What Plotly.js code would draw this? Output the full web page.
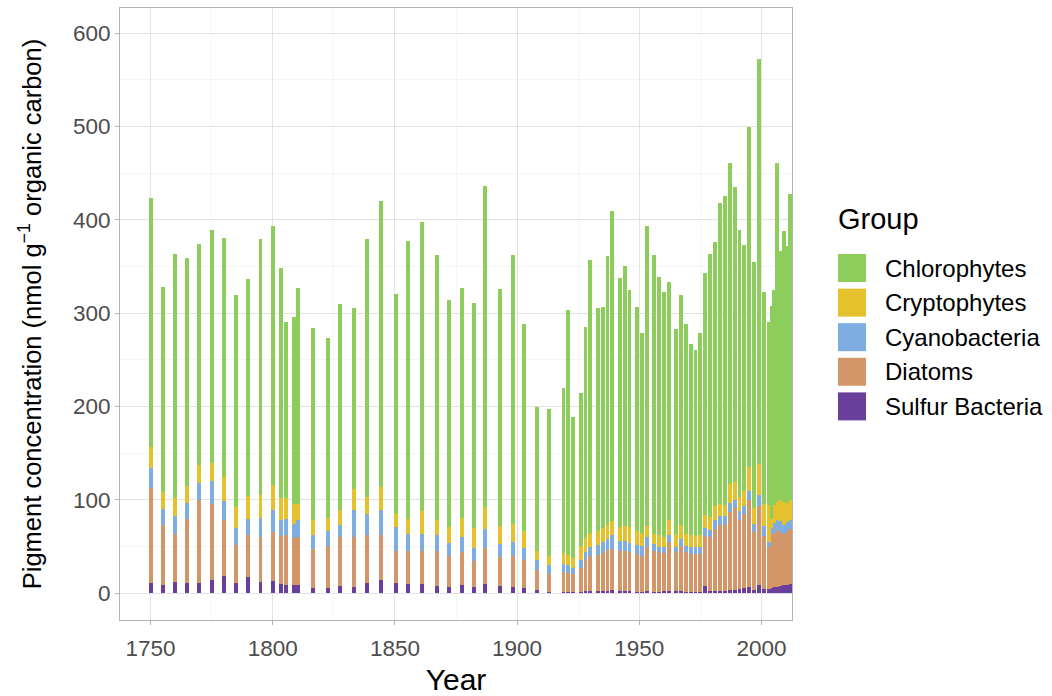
<!DOCTYPE html>
<html>
<head>
<meta charset="utf-8">
<script src="https://cdn.plot.ly/plotly-3.0.1.min.js"></script>
<style>
  html, body { margin: 0; padding: 0; background: #ffffff; }
  #chart { width: 1052px; height: 696px; }
</style>
</head>
<body>
<div id="chart"></div>
<script>
// Sediment core sample dates (year AD)
const years = [
  1750, 1755, 1760, 1765, 1770, 1775, 1780, 1785, 1790, 1795, 1800, 1803.4, 1805.5, 1808.6, 1810.5,
  1816.4, 1822.5, 1827.5, 1833.3, 1838.4, 1844.2, 1850.3, 1855.3, 1861.2, 1867.3, 1872.3, 1877.3,
  1882.3, 1887, 1893.1, 1898.2, 1903, 1908.1, 1913.1,
  1919, 1921, 1923, 1926, 1928, 1930, 1933, 1935, 1937, 1939,
  1942, 1944, 1946, 1949, 1951, 1953, 1956, 1958, 1960, 1962,
  1965, 1967, 1969, 1971, 1973, 1975, 1977, 1979, 1981, 1983,
  1985, 1987, 1989, 1991, 1993, 1995, 1997, 1999, 2001, 2003,
  2004.1, 2005.3, 2006.5, 2007.7, 2009.3, 2010.5, 2011.6
];

// Pigment concentration per group (nmol g-1 organic carbon)
const sulfurBacteria = [
  11.5, 9, 12.6, 10.8, 11.5, 14.4, 18.7, 11.5, 17.6, 12.6, 13, 10.4, 8.6, 9, 8.6,
  6.1, 6.1, 7.9, 6.8, 11.5, 14.4, 11.5, 10.4, 9.7, 7.9, 7.2, 8.5,
  7.2, 10.4, 7.9, 6.8, 6.1, 3.6, 1.8,
  1.8, 1.8, 1.5, 1.8, 2, 2, 2, 2, 2.5, 3.5,
  2, 2, 2, 1.5, 1.5, 3, 1.5, 1.5, 2, 2,
  2, 2, 1.5, 1.5, 1.5, 1.5, 8, 2, 2, 2.5,
  3, 3.5, 4, 5, 5.5, 7, 4, 9, 5, 5,
  6, 7, 7, 8, 9, 9, 10
];

const diatoms = [
  101.5, 63.7, 51.1, 69.2, 88.9, 81.6, 60.1, 40.5, 45, 48.2, 52.5, 51.5, 54, 50.4, 51.4,
  41.4, 44.9, 52.9, 54, 50.5, 47.6, 33.5, 34.6, 35.3, 37.1, 33.1, 36.2,
  27.6, 38.6, 30.5, 33.2, 29.4, 21.1, 19.2,
  20.7, 19.7, 19.5, 25.2, 33.6, 37.5, 39.5, 41.3, 43.5, 44.2,
  43, 42.8, 42, 41, 38.5, 46.5, 43.5, 42.5, 41, 52.8,
  42, 49, 42.5, 40.8, 40.5, 40.5, 53.5, 58, 67, 71,
  71.5, 83.5, 87, 74, 79.5, 92.6, 61.7, 85, 56, 44.5,
  57, 58, 62, 58, 55, 58, 59
];

const cyanobacteria = [
  21, 17.3, 18.7, 17, 17.6, 24.5, 20.2, 18, 17.4, 19.8, 23.3, 16.9, 17.4, 15.1, 18,
  14.5, 15.5, 12.9, 28.8, 23, 26.8, 26, 18.7, 18, 17, 13.3, 15.8,
  14.2, 19.8, 14.3, 14.5, 13.5, 10.8, 9.5,
  9, 8.5, 6, 9, 8.9, 10.5, 10.5, 11.7, 12.5, 14.3,
  11, 11.2, 10, 9, 10.5, 10.5, 8, 5.5, 6.5, 7.2,
  5.5, 7.4, 7, 7.7, 8, 8, 8.5, 8, 9, 9,
  8.5, 9.5, 9, 9, 9, 10.4, 8.3, 11, 11, 5.5,
  7, 10, 10, 11, 9, 9, 9
];

const cryptophytes = [
  23, 19, 19.6, 17.7, 19, 19.5, 26, 22.4, 24, 24.4, 27, 23.2, 22, 21.5, 18,
  16.8, 14.5, 15.9, 22.4, 18, 25.2, 14, 16.3, 24.8, 16.8, 17.3, 20.5,
  21, 24, 19.7, 19.5, 18, 10, 9.5,
  12, 11.5, 11, 15, 14.5, 14.7, 14.5, 15, 14.5, 15.3,
  15, 16.5, 16.5, 15, 14.5, 11.7, 10.8, 12.5, 10.5, 16,
  14.3, 14.4, 12.8, 12, 11.5, 12, 14, 14, 16, 13.5,
  12, 20.5, 19, 15, 16, 25.5, 17, 34, 24, 40,
  10, 20, 19, 23, 25, 21, 22
];

const chlorophytes = [
  266, 219, 261, 244.3, 237, 249, 256, 227.6, 233, 275, 277.2, 247, 189, 200, 231,
  205.2, 192, 220.4, 194, 277, 306, 236, 297, 310.2, 283.2, 243.1, 246,
  241, 343.2, 253.6, 288, 222, 154.5, 157.5,
  176.1, 261.5, 150.6, 164, 226.7, 292.3, 238.9, 236.4, 288.8, 332.3,
  266.5, 278.2, 254.5, 240.5, 214.3, 322.2, 298.7, 277, 263, 255.6,
  219.2, 246.8, 225.2, 205, 199.2, 216.6, 259.6, 281, 282.8, 322.6,
  331, 344.4, 316.7, 286.3, 263, 363.8, 264, 433, 227, 196,
  228, 230, 363, 267, 290, 275, 328
];

// Legend order (top to bottom) and fill colours
const groupNames = ["Chlorophytes", "Cryptophytes", "Cyanobacteria", "Diatoms", "Sulfur Bacteria"];
const groupColors = ["#8ccd5c", "#e5c12d", "#7eade1", "#d39669", "#6a3e9c"];
const groupValues = [chlorophytes, cryptophytes, cyanobacteria, diatoms, sulfurBacteria];

const FONT = "Liberation Sans, Arial, Helvetica, sans-serif";
const BAR_WIDTH = 1.6;

// Stack from the bottom: Sulfur Bacteria first, Chlorophytes on top
const traces = [];
for (let i = groupNames.length - 1; i >= 0; i--) {
  traces.push({
    type: "bar",
    name: groupNames[i],
    x: years,
    y: groupValues[i],
    width: BAR_WIDTH,
    marker: { color: groupColors[i], line: { width: 0 } },
    showlegend: false,
    hoverinfo: "x+y+name"
  });
}

// Plot panel geometry (pixels)
const W = 1052, H = 696;
const M = { l: 120, r: 260, t: 8, b: 76 };
const pw = W - M.l - M.r, ph = H - M.t - M.b;
const px2paperX = (px) => (px - M.l) / pw;
const px2paperY = (py) => (H - M.b - py) / ph;

// Hand-built legend with large square keys
const shapes = [];
const annotations = [];
annotations.push({
  xref: "paper", yref: "paper",
  x: px2paperX(836), y: px2paperY(219),
  xanchor: "left", yanchor: "middle",
  text: "Group", showarrow: false,
  font: { family: FONT, size: 29, color: "#000000" }
});
const keyTop = 254, keyStep = 34.6, keySize = 28;
groupNames.forEach((name, i) => {
  const y0 = keyTop + i * keyStep;
  shapes.push({
    type: "rect", xref: "paper", yref: "paper",
    x0: px2paperX(838), x1: px2paperX(838 + keySize),
    y0: px2paperY(y0 + keySize), y1: px2paperY(y0),
    fillcolor: groupColors[i], line: { width: 0 }
  });
  annotations.push({
    xref: "paper", yref: "paper",
    x: px2paperX(883), y: px2paperY(y0 + keySize / 2),
    xanchor: "left", yanchor: "middle",
    text: name, showarrow: false,
    font: { family: FONT, size: 24, color: "#000000" }
  });
});

const axisCommon = {
  showline: true, linecolor: "#b3b3b3", linewidth: 1, mirror: true,
  ticks: "outside", ticklen: 4, tickwidth: 1, tickcolor: "#b3b3b3",
  showgrid: true, gridcolor: "#e2e2e2", gridwidth: 1,
  zeroline: false,
  tickfont: { family: FONT, size: 22.5, color: "#4d4d4d" }
};

const layout = {
  width: W, height: H,
  margin: M,
  paper_bgcolor: "#ffffff", plot_bgcolor: "#ffffff",
  barmode: "stack",
  showlegend: false,
  font: { family: FONT },
  xaxis: Object.assign({}, axisCommon, {
    range: [1737.5, 2012.5],
    tick0: 1750, dtick: 50,
    ticklabelstandoff: 4,
    minor: { dtick: 25, tick0: 1750, showgrid: true, gridcolor: "#efefef", gridwidth: 0.6 },
    title: { text: "Year", font: { family: FONT, size: 30, color: "#000000" }, standoff: 8 }
  }),
  yaxis: Object.assign({}, axisCommon, {
    range: [-28.6, 627],
    tick0: 0, dtick: 100,
    minor: { dtick: 50, tick0: 0, showgrid: true, gridcolor: "#efefef", gridwidth: 0.6 },
    title: {
      text: "Pigment concentration (nmol g<sup>\u22121</sup> organic carbon)",
      font: { family: FONT, size: 25.5, color: "#000000" }, standoff: 24
    }
  }),
  shapes: shapes,
  annotations: annotations
};

Plotly.newPlot("chart", traces, layout, { displayModeBar: false, staticPlot: true });
</script>
</body>
</html>
